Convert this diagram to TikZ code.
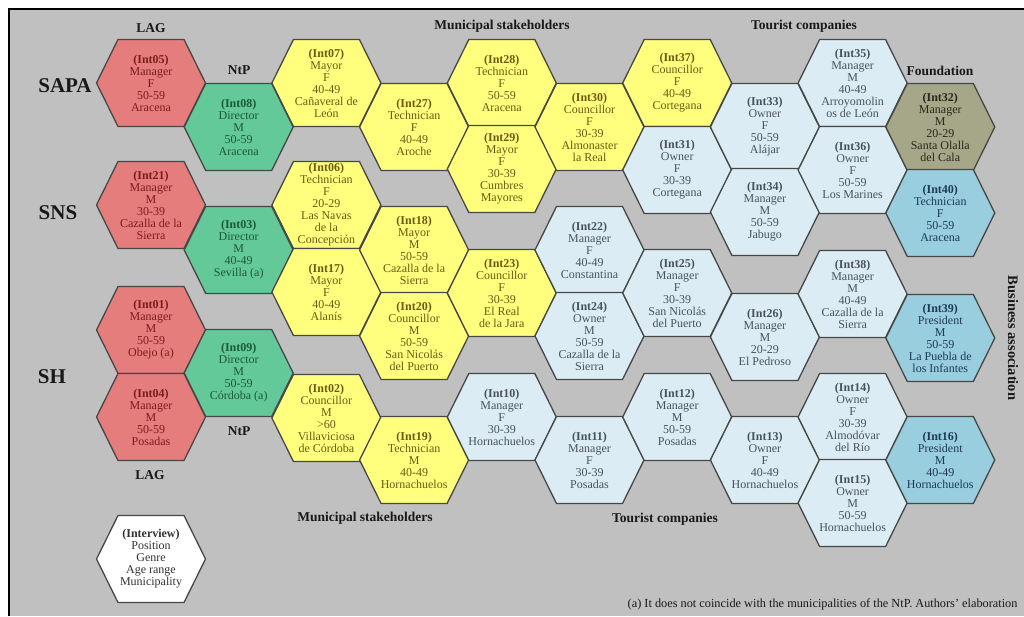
\documentclass[tikz,border=0pt]{standalone}
\usepackage{fontspec}
\setmainfont{Liberation Serif}
\usepackage{tikz}
\usetikzlibrary{positioning}
\definecolor{bggray}{RGB}{192,192,192}
\definecolor{hexedge}{RGB}{70,72,70}
\definecolor{lagF}{RGB}{230,125,125}
\definecolor{lagT}{RGB}{122,28,28}
\definecolor{ntpF}{RGB}{99,201,152}
\definecolor{ntpT}{RGB}{28,88,58}
\definecolor{munF}{RGB}{255,255,125}
\definecolor{munT}{RGB}{110,90,20}
\definecolor{tourF}{RGB}{220,236,245}
\definecolor{tourT}{RGB}{72,82,92}
\definecolor{fndF}{RGB}{166,166,136}
\definecolor{fndT}{RGB}{40,40,28}
\definecolor{busF}{RGB}{152,206,222}
\definecolor{busT}{RGB}{30,58,85}
\definecolor{keyF}{RGB}{255,255,255}
\definecolor{keyT}{RGB}{50,50,50}
\tikzset{
  hexline/.style={draw=hexedge,line width=1.3pt,line join=miter},
  celltext/.style={align=center,inner sep=0pt,font=\fontsize{12}{12}\selectfont},
  grouphead/.style={font=\fontsize{13.5}{15}\selectfont\bfseries,text=black!90},
  areahead/.style={font=\fontsize{21}{23}\selectfont\bfseries,text=black!90},
  notetext/.style={font=\fontsize{12.3}{13}\selectfont,text=black!90}
}
% name, x, y, kind, text
\newcommand{\hexcell}[5]{%
  \filldraw[hexline,fill=#4F] (#2,#3) +(-54.5,0) -- +(-33,-43.5) -- +(33,-43.5)
    -- +(54.5,0) -- +(33,43.5) -- +(-33,43.5) -- cycle;
  \node[celltext,text=#4T] (#1) at (#2,#3) {#5};
}
\begin{document}
\begin{tikzpicture}[x=1pt,y=-1pt]
  \useasboundingbox (0,0) rectangle (1024,616);
  \fill[white] (0,0) rectangle (1024,616);
  \fill[bggray] (9,9) rectangle (1024,616);
  \draw[black,line width=1.2pt] (9,616) -- (9,9) -- (1024,9);

  \hexcell{int05}{151}{83}{lag}{\textbf{(Int05)}\\Manager\\F\\50-59\\Aracena}
  \hexcell{int21}{151}{205}{lag}{\textbf{(Int21)}\\Manager\\M\\30-39\\Cazalla de la\\Sierra}
  \hexcell{int01}{151}{330}{lag}{\textbf{(Int01)}\\Manager\\M\\50-59\\Obejo (a)}
  \hexcell{int04}{151}{417}{lag}{\textbf{(Int04)}\\Manager\\M\\50-59\\Posadas}

  \hexcell{int08}{238.7}{127}{ntp}{\textbf{(Int08)}\\Director\\M\\50-59\\Aracena}
  \hexcell{int03}{238.7}{250}{ntp}{\textbf{(Int03)}\\Director\\M\\40-49\\Sevilla (a)}
  \hexcell{int09}{238.7}{373}{ntp}{\textbf{(Int09)}\\Director\\M\\50-59\\Córdoba (a)}

  \hexcell{int07}{326.4}{83}{mun}{\textbf{(Int07)}\\Mayor\\F\\40-49\\Cañaveral de\\León}
  \hexcell{int06}{326.4}{205}{mun}{\textbf{(Int06)}\\Technician\\F\\20-29\\Las Navas\\de la\\Concepción}
  \hexcell{int17}{326.4}{292}{mun}{\textbf{(Int17)}\\Mayor\\F\\40-49\\Alanís}
  \hexcell{int02}{326.4}{418}{mun}{\textbf{(Int02)}\\Councillor\\M\\>60\\Villaviciosa\\de Córdoba}

  \hexcell{int27}{414.1}{127}{mun}{\textbf{(Int27)}\\Technician\\F\\40-49\\Aroche}
  \hexcell{int18}{414.1}{250}{mun}{\textbf{(Int18)}\\Mayor\\M\\50-59\\Cazalla de la\\Sierra}
  \hexcell{int20}{414.1}{336}{mun}{\textbf{(Int20)}\\Councillor\\M\\50-59\\San Nicolás\\del Puerto}
  \hexcell{int19}{414.1}{460}{mun}{\textbf{(Int19)}\\Technician\\M\\40-49\\Hornachuelos}

  \hexcell{int28}{501.8}{83}{mun}{\textbf{(Int28)}\\Technician\\F\\50-59\\Aracena}
  \hexcell{int29}{501.8}{169}{mun}{\textbf{(Int29)}\\Mayor\\F\\30-39\\Cumbres\\Mayores}
  \hexcell{int23}{501.8}{293}{mun}{\textbf{(Int23)}\\Councillor\\F\\30-39\\El Real\\de la Jara}
  \hexcell{int10}{501.8}{417}{tour}{\textbf{(Int10)}\\Manager\\F\\30-39\\Hornachuelos}

  \hexcell{int30}{589.5}{127}{mun}{\textbf{(Int30)}\\Councillor\\F\\30-39\\Almonaster\\la Real}
  \hexcell{int22}{589.5}{250}{tour}{\textbf{(Int22)}\\Manager\\F\\40-49\\Constantina}
  \hexcell{int24}{589.5}{336}{tour}{\textbf{(Int24)}\\Owner\\M\\50-59\\Cazalla de la\\Sierra}
  \hexcell{int11}{589.5}{460}{tour}{\textbf{(Int11)}\\Manager\\F\\30-39\\Posadas}

  \hexcell{int37}{677.2}{83}{mun}{\textbf{(Int37)}\\Councillor\\F\\40-49\\Cortegana}
  \hexcell{int31}{677.2}{170}{tour}{\textbf{(Int31)}\\Owner\\F\\30-39\\Cortegana}
  \hexcell{int25}{677.2}{293}{tour}{\textbf{(Int25)}\\Manager\\F\\30-39\\San Nicolás\\del Puerto}
  \hexcell{int12}{677.2}{417}{tour}{\textbf{(Int12)}\\Manager\\M\\50-59\\Posadas}

  \hexcell{int33}{764.9}{127}{tour}{\textbf{(Int33)}\\Owner\\F\\50-59\\Alájar}
  \hexcell{int34}{764.9}{212}{tour}{\textbf{(Int34)}\\Manager\\M\\50-59\\Jabugo}
  \hexcell{int26}{764.9}{337}{tour}{\textbf{(Int26)}\\Manager\\M\\20-29\\El Pedroso}
  \hexcell{int13}{764.9}{460}{tour}{\textbf{(Int13)}\\Owner\\F\\40-49\\Hornachuelos}

  \hexcell{int35}{852.6}{83}{tour}{\textbf{(Int35)}\\Manager\\M\\40-49\\Arroyomolin\\os de León}
  \hexcell{int36}{852.6}{170}{tour}{\textbf{(Int36)}\\Owner\\F\\50-59\\Los Marines}
  \hexcell{int38}{852.6}{294}{tour}{\textbf{(Int38)}\\Manager\\M\\40-49\\Cazalla de la\\Sierra}
  \hexcell{int14}{852.6}{417}{tour}{\textbf{(Int14)}\\Owner\\F\\30-39\\Almodóvar\\del Río}
  \hexcell{int15}{852.6}{503}{tour}{\textbf{(Int15)}\\Owner\\M\\50-59\\Hornachuelos}

  \hexcell{int32}{940.3}{127}{fnd}{\textbf{(Int32)}\\Manager\\M\\20-29\\Santa Olalla\\del Cala}
  \hexcell{int40}{940.3}{213}{bus}{\textbf{(Int40)}\\Technician\\F\\50-59\\Aracena}
  \hexcell{int39}{940.3}{338}{bus}{\textbf{(Int39)}\\President\\M\\50-59\\La Puebla de\\los Infantes}
  \hexcell{int16}{940.3}{460}{bus}{\textbf{(Int16)}\\President\\M\\40-49\\Hornachuelos}

  \hexcell{legend}{151}{559}{key}{\textbf{(Interview)}\\Position\\Genre\\Age range\\Municipality}

  \node[areahead] (sapa) at (65,86) {SAPA};
  \node[areahead] (sns) at (58,213) {SNS};
  \node[areahead] (sh) at (52,377) {SH};
  \node[grouphead] (lagtop) at (151,28) {LAG};
  \node[grouphead] (ntptop) at (239,70) {NtP};
  \node[grouphead] (ntpbot) at (239,431) {NtP};
  \node[grouphead] (lagbot) at (150,475) {LAG};
  \node[grouphead] (muntop) at (502,26) {Municipal stakeholders};
  \node[grouphead] (munbot) at (365,518) {Municipal stakeholders};
  \node[grouphead] (tourtop) at (804,26) {Tourist companies};
  \node[grouphead] (tourbot) at (665,519) {Tourist companies};
  \node[grouphead] (fndtop) at (940,71) {Foundation};
  \node[grouphead,rotate=-90,font=\fontsize{14.5}{16}\selectfont\bfseries] (busside) at (1013,338) {Business association};
  \node[notetext,anchor=east] (note) at (1021,604) {(a) It does not coincide with the municipalities of the NtP. Authors' elaboration};
\end{tikzpicture}
\end{document}
